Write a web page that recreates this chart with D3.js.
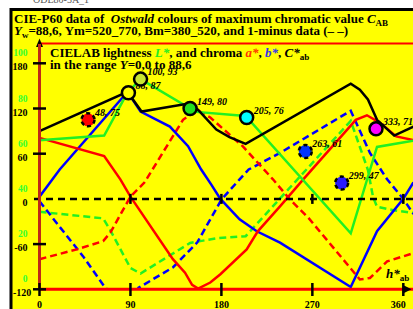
<!DOCTYPE html>
<html>
<head>
<meta charset="utf-8">
<script src="https://cdn.jsdelivr.net/npm/d3@7"></script>
<style>
body{margin:0;background:#fff}
svg{display:block}
text{font-family:"Liberation Serif","Times New Roman",serif;font-weight:bold;white-space:pre}
</style>
</head>
<body>
<svg id="chart" width="413" height="309"></svg>
<script>
// hue (deg) and values
var hueCab = [0, 87, 101, 149, 157, 175, 188, 204, 308, 317, 325, 334, 351, 370]
var valCab = [90, 142, 116, 127, 118, 92, 82, 73, 153, 145, 132, 105, 84, 96]

var hueA = [0, 64, 80, 90, 132, 144, 151, 157, 169, 179, 205, 216, 238, 261, 313, 324, 337, 353, 370]
var valA = [81, 57, 26, 3, -80, -98, -114, -119, -111, -100, -67, -43, -10, 26, 105, 111, 101, 83, 78]

var hueB = [0, 20, 87, 100, 129, 147, 160, 170, 179, 198, 215, 238, 308, 334, 360, 370]
var valB = [3, 39, 142, 116, 96, 70, 39, 19, 0, -27, -43, -58, -117, -43, 0, 22]

var hueL = [0, 64, 87, 100, 149, 152, 204, 308, 325, 334, 370]
var valL = [66, 68, 87, 93, 80, 78.6, 76.7, 24.8, 49.8, 63, 65.8]

// 1-minus data (dashed)
var hueA1 = [0, 37, 63, 70, 90, 104, 142, 156, 169, 201, 231, 248, 266, 309, 317, 327, 344, 370]
var valA1 = [-80, -67, -56, -45, 3, 22, 105, 118, 108, 70, 26, -1, -25, -94, -107, -105, -83, -72]

var hueB1 = [0, 14, 43, 65, 87, 98, 132, 156, 180, 198, 207, 238, 308, 327, 344, 360, 370]
var valB1 = [-3, -27, -76, -118, -142, -118, -91, -58, -1, 26, 39, 61, 117, 61, 26, 0, -20]

var hueL1 = [0, 63, 70, 90, 100, 149, 175, 204, 308, 325, 330, 334, 350, 370]
var valL1 = [34.3, 31.4, 26.2, 9.4, 7, 20.5, 22.6, 23.5, 74.5, 52.8, 41, 36.5, 35, 33.8]

// Ostwald colours: hue, lightness, colour
var ptHue = [48, 88, 100, 149, 205, 263, 299, 333]
var ptL = [75, 87, 93, 80, 76, 61, 47, 71]
var ptColor = ['#ff0000', '#ffff00', '#c8e632', '#20e020', '#00ffff', '#0033ff', '#2a1aff', '#ff00ff']

var xTicks = [0, 90, 180, 270, 360]
var yTicks = [180, 120, 60, 0, -60, -120]
var lTicks = [0, 20, 40, 60, 80, 100]

var svg = d3.select('#chart')

var x = d3.scaleLinear().domain([0, 360]).range([39.5, 403.3])
var y = d3.scaleLinear().domain([-120, 180]).range([289.3, 63.3])
var yL = d3.scaleLinear().domain([0, 100]).range([289.3, 63.3])

// frame
svg.append('rect').attr('x', 11).attr('y', 9.5).attr('width', 420).attr('height', 320)
   .attr('fill', '#ffff00').attr('stroke', '#000').attr('stroke-width', 3)

svg.append('text').attr('x', 33).attr('y', 3).attr('fill', '#555')
   .style('font-size', '10px').style('font-weight', 'normal').text('ODE80-3A_1')

// title
var t1 = svg.append('text').attr('x', 14).attr('y', 23).style('font-size', '13px')
t1.append('tspan').text('CIE-P60 data of  ')
t1.append('tspan').style('font-style', 'italic').text('Ostwald')
t1.append('tspan').text(' colours of maximum chromatic value ')
t1.append('tspan').style('font-style', 'italic').text('C')
t1.append('tspan').attr('dy', 3).style('font-size', '9px').text('AB')

var t2 = svg.append('text').attr('x', 14).attr('y', 35).style('font-size', '13px')
t2.append('tspan').style('font-style', 'italic').text('Y')
t2.append('tspan').attr('dy', 3).style('font-size', '9px').text('w')
t2.append('tspan').attr('dy', -3).text('=88,6, Ym=520_770, Bm=380_520, and 1-minus data (– –)')

// plot frame top
svg.append('line').attr('x1', 39.5).attr('x2', 413).attr('y1', 43.5).attr('y2', 43.5)
   .attr('stroke', '#ff0000').attr('stroke-width', 2)

// legend text
var g1 = svg.append('text').attr('x', 50).attr('y', 57).style('font-size', '13px')
g1.append('tspan').text('CIELAB lightness ')
g1.append('tspan').style('font-style', 'italic').attr('fill', '#22ee22').text('L*')
g1.append('tspan').text(', and chroma ')
g1.append('tspan').style('font-style', 'italic').attr('fill', '#ff3300').text('a*')
g1.append('tspan').text(', ')
g1.append('tspan').style('font-style', 'italic').attr('fill', '#3333ee').text('b*')
g1.append('tspan').text(', ')
g1.append('tspan').style('font-style', 'italic').text('C*')
g1.append('tspan').attr('dy', 3).style('font-size', '9px').text('ab')

var g2 = svg.append('text').attr('x', 50).attr('y', 69).style('font-size', '13px')
g2.append('tspan').text('in the range ')
g2.append('tspan').style('font-style', 'italic').text('Y')
g2.append('tspan').text('=0,0 to 88,6')

// clip for the curves
svg.append('clipPath').attr('id', 'plotclip').append('rect')
   .attr('x', 39.5).attr('y', 43.5).attr('width', 380).attr('height', 245.8)

var lineC = d3.line().x(d => x(d[0])).y(d => y(d[1]))
var lineL = d3.line().x(d => x(d[0])).y(d => yL(d[1]))
var plot = svg.append('g').attr('clip-path', 'url(#plotclip)')

function series(h, v, gen, color, dashed) {
  plot.append('path').datum(d3.zip(h, v)).attr('d', gen)
     .attr('fill', 'none').attr('stroke', color).attr('stroke-width', 2.5)
     .attr('stroke-dasharray', dashed ? '7,4' : null)
}

series(hueL1, valL1, lineL, '#22f022', true)
series(hueB1, valB1, lineC, '#0000ff', true)
series(hueA1, valA1, lineC, '#ff0000', true)

// zero line
svg.append('line').attr('x1', 34).attr('x2', 413).attr('y1', y(0)).attr('y2', y(0))
   .attr('stroke', '#000').attr('stroke-width', 2.5).attr('stroke-dasharray', '7,5')

series(hueB, valB, lineC, '#0000ff', false)
series(hueA, valA, lineC, '#ff0000', false)
series(hueL, valL, lineL, '#22f022', false)
series(hueCab, valCab, lineC, '#000000', false)

// y axis
svg.append('line').attr('x1', 39.5).attr('x2', 39.5).attr('y1', 289).attr('y2', 42)
   .attr('stroke', '#000').attr('stroke-width', 1.5)
svg.append('path').attr('d', 'M36,47L39.5,38.5L43,47Z').attr('fill', '#000')
svg.append('line').attr('x1', 39.5).attr('x2', 39.5).attr('y1', 44).attr('y2', 289.3)
   .attr('stroke', '#c02818').attr('stroke-width', 3)

// x axis
svg.append('line').attr('x1', 39.5).attr('x2', 413).attr('y1', 289.3).attr('y2', 289.3)
   .attr('stroke', '#ff0000').attr('stroke-width', 3)
svg.append('path').attr('d', 'M404,285.5L411.5,289.3L404,293Z').attr('fill', '#000')

svg.selectAll('.xt').data(xTicks).enter().append('line')
   .attr('x1', d => x(d)).attr('x2', d => x(d)).attr('y1', 283).attr('y2', 296)
   .attr('stroke', '#000').attr('stroke-width', 2.5)
svg.selectAll('.zt').data(xTicks.slice(1)).enter().append('line')
   .attr('x1', d => x(d)).attr('x2', d => x(d)).attr('y1', y(0) - 5).attr('y2', y(0) + 5)
   .attr('stroke', '#000').attr('stroke-width', 2.5)
svg.selectAll('.yt').data(yTicks.filter(d => d != 0)).enter().append('line')
   .attr('x1', 33).attr('x2', 46).attr('y1', d => y(d)).attr('y2', d => y(d))
   .attr('stroke', '#000').attr('stroke-width', 2.5)

svg.selectAll('.xl').data(xTicks).enter().append('text')
   .attr('x', d => d == 360 ? x(d) - 5 : x(d)).attr('y', 308).attr('text-anchor', 'middle')
   .style('font-size', '10px').text(d => d)
svg.selectAll('.yl').data(yTicks).enter().append('text')
   .attr('x', d => d == -120 ? 13 : 27.5).attr('y', d => y(d) + 7)
   .attr('text-anchor', d => d == -120 ? 'start' : 'end')
   .style('font-size', '10px').text(d => d)
svg.selectAll('.ll').data(lTicks).enter().append('text')
   .attr('x', 27.5).attr('y', d => yL(d) - 7).attr('text-anchor', 'end')
   .attr('fill', '#33ff33').style('font-size', '9.5px').text(d => d)

var hl = svg.append('text').attr('x', 386).attr('y', 278).style('font-size', '13px')
hl.append('tspan').style('font-style', 'italic').text('h*')
hl.append('tspan').attr('dy', 3).style('font-size', '9px').text('ab')

// Ostwald colour points
ptHue.forEach(function (h, i) {
  var cx = x(h), cy = yL(ptL[i])
  svg.append('circle').attr('cx', cx).attr('cy', cy).attr('r', 6.5)
     .attr('fill', ptColor[i]).attr('stroke', '#000').attr('stroke-width', 2.5)
     .attr('stroke-dasharray', (i == 0 || i == 5 || i == 6) ? '4,3' : null)
  svg.append('text').attr('x', cx + 7).attr('y', cy - 4)
     .style('font-size', '10px').style('font-style', 'italic')
     .text(h + ', ' + ptL[i])
})
</script>
</body>
</html>
